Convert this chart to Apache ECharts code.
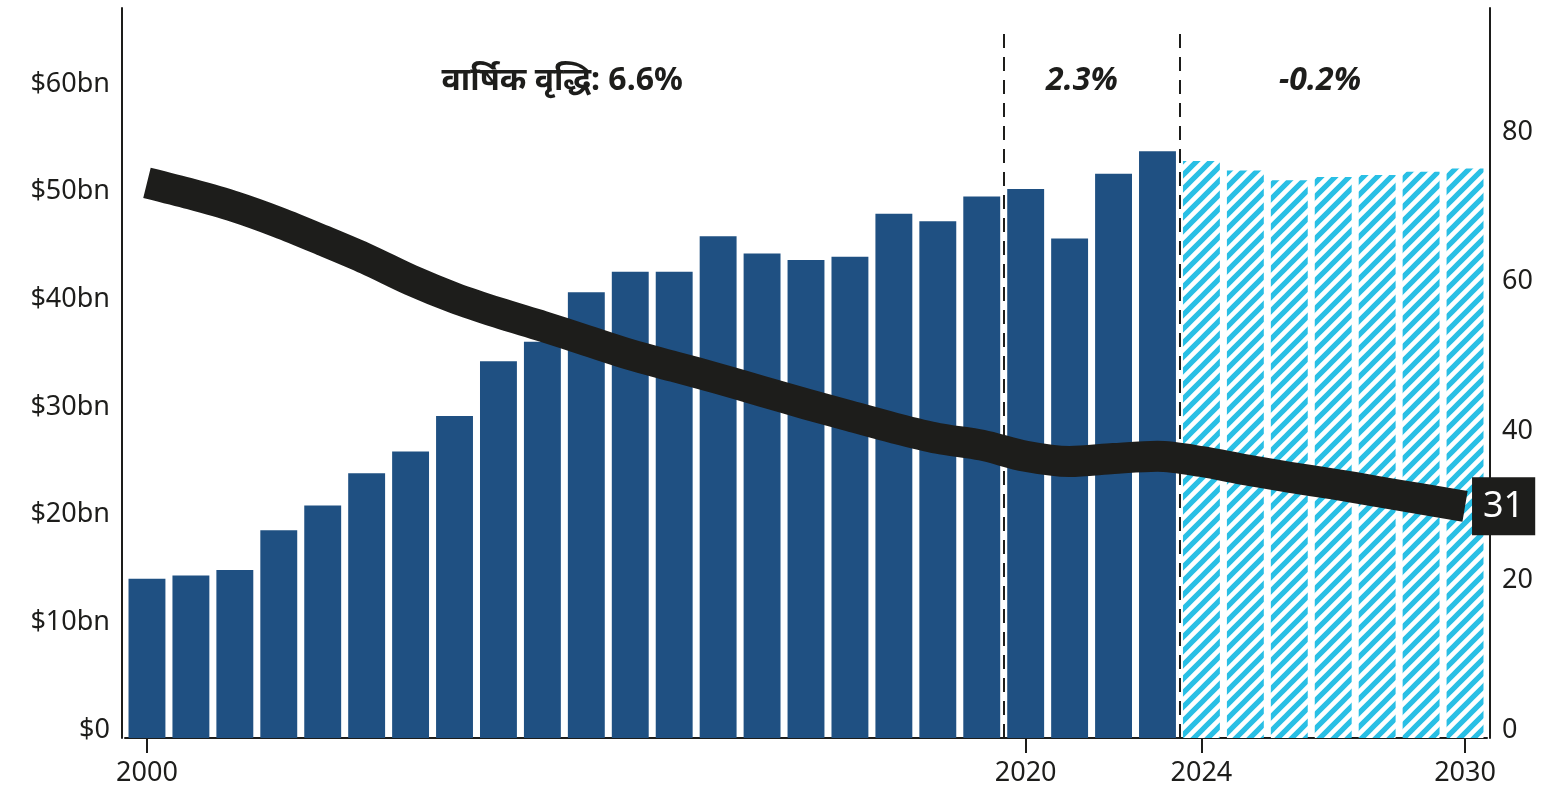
<!DOCTYPE html>
<html>
<head>
<meta charset="utf-8">
<script src="https://cdn.jsdelivr.net/npm/echarts@6/dist/echarts.min.js"></script>
<style>
  html, body { margin: 0; padding: 0; background: #fff; }
  #chart { width: 1555px; height: 791px; }
</style>
</head>
<body>
<div id="chart"></div>
<script>
// Years on the category axis
const years = ['2000','2001','2002','2003','2004','2005','2006','2007','2008','2009',
               '2010','2011','2012','2013','2014','2015','2016','2017','2018','2019',
               '2020','2021','2022','2023','2024','2025','2026','2027','2028','2029','2030'];
// Years that carry a tick and a label
const tickYears = ['2000', '2020', '2024', '2030'];

// Spending, $bn: recorded years 2000-2023
const actualSpend = [14.8, 15.1, 15.6, 19.3, 21.6, 24.6, 26.6, 29.9, 35.0, 36.8,
                     41.4, 43.3, 43.3, 46.6, 45.0, 44.4, 44.7, 48.7, 48.0, 50.3,
                     51.0, 46.4, 52.4, 54.5];
// Spending, $bn: projected years 2024-2030
const forecastSpend = [53.6, 52.7, 51.8, 52.1, 52.3, 52.6, 52.9];

// Right-axis series (thick black line), 2000-2030
const lineValues = [74.3, 72.8, 71.1, 69.0, 66.6, 64.1, 61.3, 58.9, 56.9, 55.1,
                    53.2, 51.3, 49.7, 48.1, 46.4, 44.7, 43.1, 41.5, 40.1, 39.2,
                    37.7, 37.0, 37.4, 37.7, 37.0, 35.9, 34.9, 34.0, 33.0, 32.0, 31];

// Growth rates for each period
const periodLabels = ['वार्षिक वृद्धि: 6.6%', '2.3%', '-0.2%'];

const ink = '#1d1d1b';
const navy = '#1f5082';
const sky = '#29bfe5';
const font = '"Noto Sans", "Noto Sans Devanagari", "Open Sans", sans-serif';

// Diagonal stripe tile for projected bars
function hatchTile() {
  const s = 14;
  const c = document.createElement('canvas');
  c.width = s; c.height = s;
  const g = c.getContext('2d');
  g.fillStyle = '#ffffff';
  g.fillRect(0, 0, s, s);
  g.strokeStyle = sky;
  g.lineWidth = s / (2 * Math.SQRT2) * 1.05;
  g.beginPath();
  g.moveTo(-s / 2, s / 2); g.lineTo(s / 2, -s / 2);
  g.moveTo(0, s); g.lineTo(s, 0);
  g.moveTo(s / 2, s * 1.5); g.lineTo(s * 1.5, s / 2);
  g.stroke();
  return c;
}

const nActual = actualSpend.length;
const actualData = years.map((y, i) => i < nActual ? actualSpend[i] : null);
const forecastData = years.map((y, i) => i >= nActual ? forecastSpend[i - nActual] : null);

const showTick = (idx, val) => tickYears.indexOf(val) !== -1;

const chart = echarts.init(document.getElementById('chart'), null, { renderer: 'canvas' });

// Value labels sit just above their tick value
const yLabel = {
  showMaxLabel: false, fontSize: 27, color: ink, fontFamily: font, margin: 12,
  verticalAlign: 'bottom', lineHeight: 16
};

const option = {
  animation: false,
  backgroundColor: '#ffffff',
  textStyle: { fontFamily: font, color: ink },
  grid: { left: 125, right: 68, top: 8, bottom: 53, containLabel: false },
  xAxis: [
    {
      type: 'category',
      data: years,
      axisLine: { show: true, lineStyle: { color: ink, width: 2 } },
      axisTick: { show: true, alignWithLabel: true, interval: showTick, length: 15,
                  lineStyle: { color: ink, width: 2 } },
      axisLabel: { interval: showTick, fontSize: 27, color: ink, fontFamily: font, margin: 22 },
      splitLine: { show: false }
    },
    {
      // helper axis aligned with category centres, for dividers and period labels
      type: 'value', min: -0.5, max: 30.5, show: false
    }
  ],
  yAxis: [
    {
      type: 'value', position: 'left', offset: 3, min: 0, max: 67.8, interval: 10,
      axisLine: { show: true, onZero: false, lineStyle: { color: ink, width: 2 } },
      axisTick: { show: false },
      splitLine: { show: false },
      axisLabel: Object.assign({}, yLabel, {
        formatter: v => v === 0 ? '$0' : '$' + v + 'bn'
      })
    },
    {
      type: 'value', position: 'right', offset: 3, min: 0, max: 97.7, interval: 20,
      axisLine: { show: true, onZero: false, lineStyle: { color: ink, width: 2 } },
      axisTick: { show: false },
      splitLine: { show: false },
      axisLabel: yLabel
    }
  ],
  series: [
    {
      name: 'actual', type: 'bar', data: actualData,
      barCategoryGap: '16%', barGap: '-100%',
      itemStyle: { color: navy },
      z: 2
    },
    {
      name: 'forecast', type: 'bar', data: forecastData,
      barCategoryGap: '16%', barGap: '-100%',
      itemStyle: { color: { image: hatchTile(), repeat: 'repeat' } },
      z: 2
    },
    {
      name: 'periods', type: 'scatter', xAxisIndex: 1, yAxisIndex: 0,
      symbolSize: 0, silent: true, z: 4,
      itemStyle: { opacity: 1 },
      data: [
        { value: [9.45, 61], label: { formatter: periodLabels[0], fontStyle: 'normal' } },
        { value: [21.28, 61], label: { formatter: periodLabels[1], fontStyle: 'italic' } },
        { value: [26.7, 61], label: { formatter: periodLabels[2], fontStyle: 'italic' } }
      ],
      label: {
        show: true, position: 'inside', fontSize: 32, fontWeight: 'bold',
        color: ink, opacity: 1, fontFamily: font
      },
      markLine: {
        silent: true, symbol: ['none', 'none'], label: { show: false },
        lineStyle: { color: ink, width: 2, type: [14, 9], opacity: 1 },
        data: [
          [{ coord: [19.5, 0] }, { coord: [19.5, 65.5] }],
          [{ coord: [23.5, 0] }, { coord: [23.5, 65.5] }]
        ]
      }
    },
    {
      name: 'line', type: 'line', yAxisIndex: 1, data: lineValues,
      smooth: 0.3, symbol: 'none', z: 5,
      lineStyle: { color: ink, width: 31, cap: 'butt', join: 'round' },
      endLabel: {
        show: true, formatter: '{c}', distance: 7,
        backgroundColor: ink, color: '#ffffff', fontSize: 36, fontFamily: font,
        lineHeight: 38, padding: [10, 11]
      }
    }
  ]
};

chart.setOption(option);
</script>
</body>
</html>
